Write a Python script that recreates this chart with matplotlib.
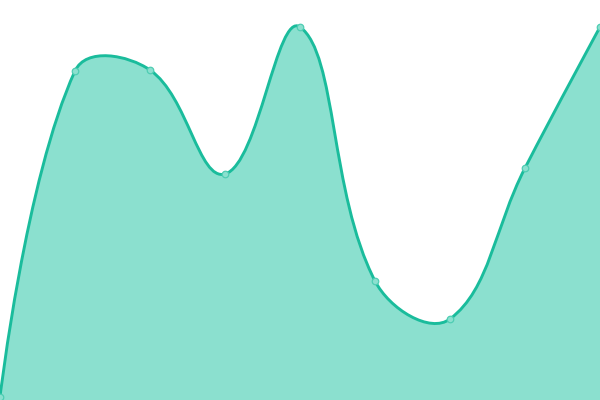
import numpy as np
import matplotlib
matplotlib.use("Agg")
import matplotlib.pyplot as plt
from matplotlib.path import Path
from matplotlib.patches import PathPatch

# values (height above the bottom edge)
x_vals = [0, 75, 150, 225, 300, 375, 450, 525, 600]
y_vals = [3, 329, 330, 226, 373, 119, 81, 232, 373]

line_color = "#1abc9c"
fill_color = "#8be0cf"
tension = 0.4


# spline control points, same idea as a tension based cardinal curve
def control_points(xs, ys, t):
    pts = np.column_stack([xs, ys]).astype(float)
    n = len(pts)
    cp_prev = pts.copy()
    cp_next = pts.copy()
    for i in range(1, n - 1):
        p0, p1, p2 = pts[i - 1], pts[i], pts[i + 1]
        d01 = np.hypot(*(p1 - p0))
        d12 = np.hypot(*(p2 - p1))
        fa = t * d01 / (d01 + d12)
        fb = t * d12 / (d01 + d12)
        cp_prev[i] = p1 - fa * (p2 - p0)
        cp_next[i] = p1 + fb * (p2 - p0)
    return pts, cp_prev, cp_next


pts, cp_prev, cp_next = control_points(x_vals, y_vals, tension)

verts = [tuple(pts[0])]
codes = [Path.MOVETO]
for i in range(len(pts) - 1):
    verts += [tuple(cp_next[i]), tuple(cp_prev[i + 1]), tuple(pts[i + 1])]
    codes += [Path.CURVE4] * 3
line_path = Path(verts, codes)

fill_verts = verts + [(x_vals[-1], 0), (x_vals[0], 0), verts[0]]
fill_codes = codes + [Path.LINETO, Path.LINETO, Path.CLOSEPOLY]
fill_path = Path(fill_verts, fill_codes)

fig = plt.figure(figsize=(6, 4), dpi=100)
ax = fig.add_axes([0, 0, 1, 1])
ax.set_xlim(0, 600)
ax.set_ylim(0, 400)
ax.axis("off")

ax.add_patch(PathPatch(fill_path, facecolor=fill_color, edgecolor="none"))
ax.add_patch(PathPatch(line_path, facecolor="none", edgecolor=line_color,
                       lw=2.1, capstyle="round", joinstyle="round"))
ax.scatter(x_vals, y_vals, s=22, facecolor=fill_color, edgecolor="#4fcdb3",
           linewidth=0.9, zorder=3, clip_on=False)

fig.savefig("out.png", dpi=100)
